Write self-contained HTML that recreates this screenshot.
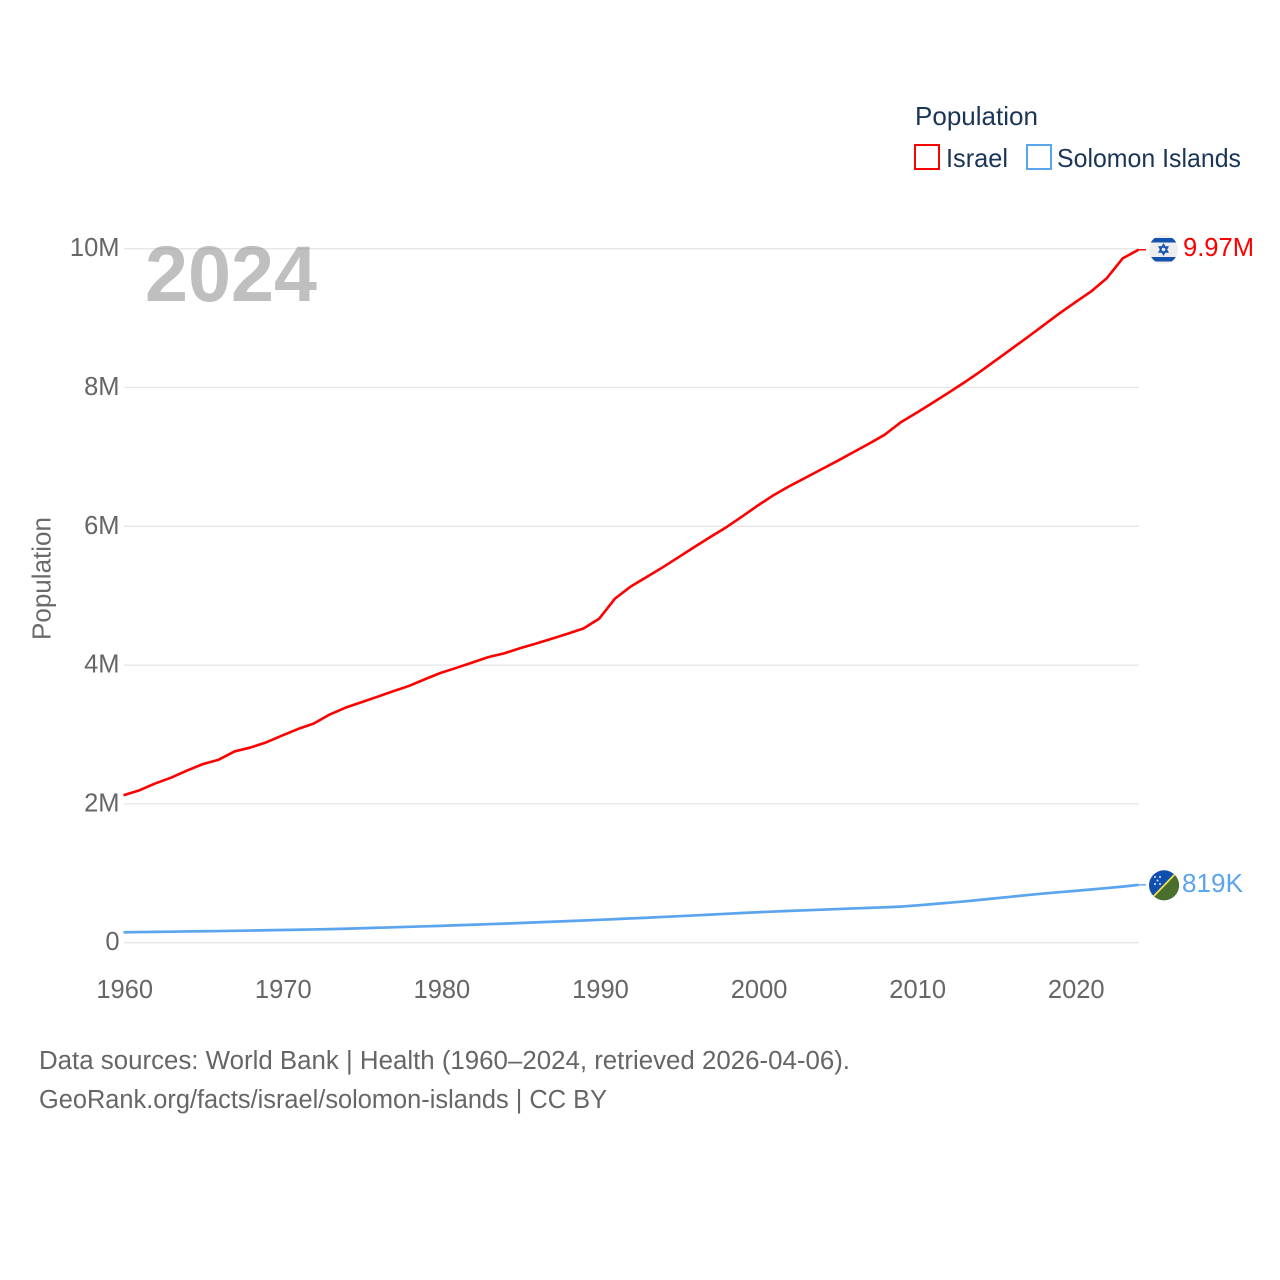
<!DOCTYPE html>
<html lang="en">
<head>
<meta charset="utf-8">
<title>Population: Israel and Solomon Islands</title>
<style>
html,body{margin:0;padding:0;background:#fff;}
svg{display:block;font-family:"Liberation Sans",sans-serif;}
</style>
</head>
<body>
<svg id="chart" xmlns="http://www.w3.org/2000/svg" width="1280" height="1280" viewBox="0 0 1280 1280">
  <rect width="1280" height="1280" fill="#fff"/>

  <g id="grid"></g>
  <g id="yticks"></g>
  <g id="xticks"></g>

  <text transform="translate(50.5,640) rotate(-90)" font-size="25.5" fill="#6a6a6a" textLength="123" lengthAdjust="spacingAndGlyphs">Population</text>

  <text x="145" y="301" font-size="79" font-weight="700" fill="#8c8c8c" fill-opacity="0.56" textLength="172" lengthAdjust="spacingAndGlyphs">2024</text>

  <g id="series"></g>

  <g>
    <text x="915" y="125" font-size="26" fill="#1b3557" textLength="123" lengthAdjust="spacingAndGlyphs">Population</text>
    <g>
      <rect x="915" y="145" width="24" height="24" fill="none" stroke="#ff0000" stroke-width="2"/>
      <text x="946" y="167" font-size="26" fill="#1b3557" textLength="62" lengthAdjust="spacingAndGlyphs">Israel</text>
    </g>
    <g>
      <rect x="1027" y="145" width="24" height="24" fill="none" stroke="#5ba4ee" stroke-width="2"/>
      <text x="1057" y="167" font-size="26" fill="#1b3557" textLength="184" lengthAdjust="spacingAndGlyphs">Solomon Islands</text>
    </g>
  </g>

  <defs>
    <clipPath id="clip-il"><circle cx="1163.5" cy="249.5" r="14.5"/></clipPath>
    <clipPath id="clip-sb"><circle cx="1164" cy="885.3" r="15"/></clipPath>
  </defs>

  <g clip-path="url(#clip-il)">
    <rect x="1149" y="235" width="29" height="29" fill="#eeeeee"/>
    <rect x="1149" y="238" width="29" height="4.5" fill="#1452ad"/>
    <rect x="1149" y="257" width="29" height="4.5" fill="#1452ad"/>
    <polygon points="1163.5,244.5 1167.8,252 1159.2,252" fill="none" stroke="#1452ad" stroke-width="1.4"/>
    <polygon points="1163.5,254.5 1167.8,247 1159.2,247" fill="none" stroke="#1452ad" stroke-width="1.4"/>
  </g>
  <text x="1183" y="256" font-size="25.5" fill="#ff0000" textLength="71" lengthAdjust="spacingAndGlyphs">9.97M</text>

  <g clip-path="url(#clip-sb)">
    <rect x="1149" y="870" width="30" height="31" fill="#0f4fae"/>
    <polygon points="1149,901 1179,901 1179,870" fill="#4a6e2b"/>
    <line x1="1152" y1="898" x2="1176" y2="873" stroke="#f2dc55" stroke-width="1.8"/>
    <g fill="#dfe8f5">
      <circle cx="1155" cy="877" r="1"/>
      <circle cx="1160" cy="877" r="1"/>
      <circle cx="1157.5" cy="880.5" r="1"/>
      <circle cx="1155" cy="884" r="1"/>
      <circle cx="1160" cy="884" r="1"/>
    </g>
  </g>
  <text x="1182" y="892" font-size="25.5" fill="#5ba4ee" textLength="61" lengthAdjust="spacingAndGlyphs">819K</text>

  <g>
    <text x="39" y="1069" font-size="25.5" fill="#666" textLength="811" lengthAdjust="spacingAndGlyphs">Data sources: World Bank | Health (1960–2024, retrieved 2026-04-06).</text>
    <text x="39" y="1108" font-size="25.5" fill="#666" textLength="568" lengthAdjust="spacingAndGlyphs">GeoRank.org/facts/israel/solomon-islands | CC BY</text>
  </g>
</svg>

<script>
const years = [1960,1961,1962,1963,1964,1965,1966,1967,1968,1969,1970,1971,1972,1973,1974,1975,1976,1977,1978,1979,1980,1981,1982,1983,1984,1985,1986,1987,1988,1989,1990,1991,1992,1993,1994,1995,1996,1997,1998,1999,2000,2001,2002,2003,2004,2005,2006,2007,2008,2009,2010,2011,2012,2013,2014,2015,2016,2017,2018,2019,2020,2021,2022,2023,2024];
const israelValues = [2.125,2.195,2.295,2.378,2.480,2.573,2.637,2.756,2.812,2.887,2.984,3.079,3.158,3.288,3.387,3.465,3.543,3.623,3.700,3.796,3.888,3.961,4.037,4.115,4.169,4.243,4.309,4.379,4.452,4.528,4.670,4.960,5.135,5.271,5.409,5.555,5.702,5.846,5.985,6.140,6.300,6.450,6.580,6.700,6.820,6.940,7.065,7.190,7.320,7.497,7.634,7.777,7.922,8.070,8.226,8.391,8.558,8.724,8.894,9.065,9.226,9.382,9.575,9.860,9.985];
const solomonValues = [0.150,0.153,0.156,0.159,0.162,0.165,0.168,0.171,0.175,0.179,0.183,0.187,0.191,0.196,0.201,0.208,0.215,0.222,0.229,0.236,0.243,0.251,0.259,0.267,0.275,0.284,0.293,0.302,0.311,0.320,0.330,0.340,0.350,0.360,0.371,0.382,0.393,0.404,0.416,0.428,0.439,0.449,0.458,0.467,0.476,0.485,0.494,0.502,0.510,0.520,0.537,0.556,0.575,0.595,0.617,0.640,0.663,0.686,0.708,0.728,0.747,0.767,0.787,0.808,0.833];
const yTickValues = [0,2,4,6,8,10];
const yTickLabels = ["0","2M","4M","6M","8M","10M"];
const xTickValues = [1960,1970,1980,1990,2000,2010,2020];

const NS = "http://www.w3.org/2000/svg";
function xScale(year){ return 123.5 + (year - 1960) * (1138.5 - 123.5) / (2024 - 1960); }
function yScale(v){ return 942.7 - v * 69.4; }
function make(tag, attrs, parent){
  const el = document.createElementNS(NS, tag);
  for (const k in attrs) el.setAttribute(k, attrs[k]);
  parent.appendChild(el);
  return el;
}

const grid = document.getElementById("grid");
const yticks = document.getElementById("yticks");
yTickValues.forEach(function(v, i){
  const line = make("line", {x1:124, x2:1139, y1:yScale(v), y2:yScale(v), stroke:"#e6e6e6", "stroke-width":1.3}, grid);
  
  
  const label = make("text", {x:119.5, y:yScale(v)+7.5, "text-anchor":"end", "font-size":25.5, fill:"#666"}, yticks);
  label.textContent = yTickLabels[i];
  
  
});

const xticks = document.getElementById("xticks");
xTickValues.forEach(function(yr){
  const label = make("text", {x:xScale(yr)+1.2, y:998, "text-anchor":"middle", "font-size":25.5, fill:"#666"}, xticks);
  label.textContent = String(yr);
  
  
});

function pointsOf(values){
  return values.map(function(v, i){ return xScale(years[i]).toFixed(2) + "," + yScale(v).toFixed(2); }).join(" ");
}
const series = document.getElementById("series");

const solomonLine = make("polyline", {points:pointsOf(solomonValues), fill:"none", stroke:"#5ba4ee", "stroke-width":2.7, "stroke-linejoin":"round"}, series);



const israelLine = make("polyline", {points:pointsOf(israelValues), fill:"none", stroke:"#ff0000", "stroke-width":2.6, "stroke-linejoin":"round"}, series);



const lastIndex = years.length - 1;
const israelConnector = make("line", {x1:xScale(years[lastIndex]), x2:1146, y1:yScale(israelValues[lastIndex]), y2:yScale(israelValues[lastIndex]), stroke:"#ff0000", "stroke-width":1.4}, series);



const solomonConnector = make("line", {x1:xScale(years[lastIndex]), x2:1146, y1:yScale(solomonValues[lastIndex]), y2:yScale(solomonValues[lastIndex]), stroke:"#5ba4ee", "stroke-width":1.4}, series);


</script>
</body>
</html>
